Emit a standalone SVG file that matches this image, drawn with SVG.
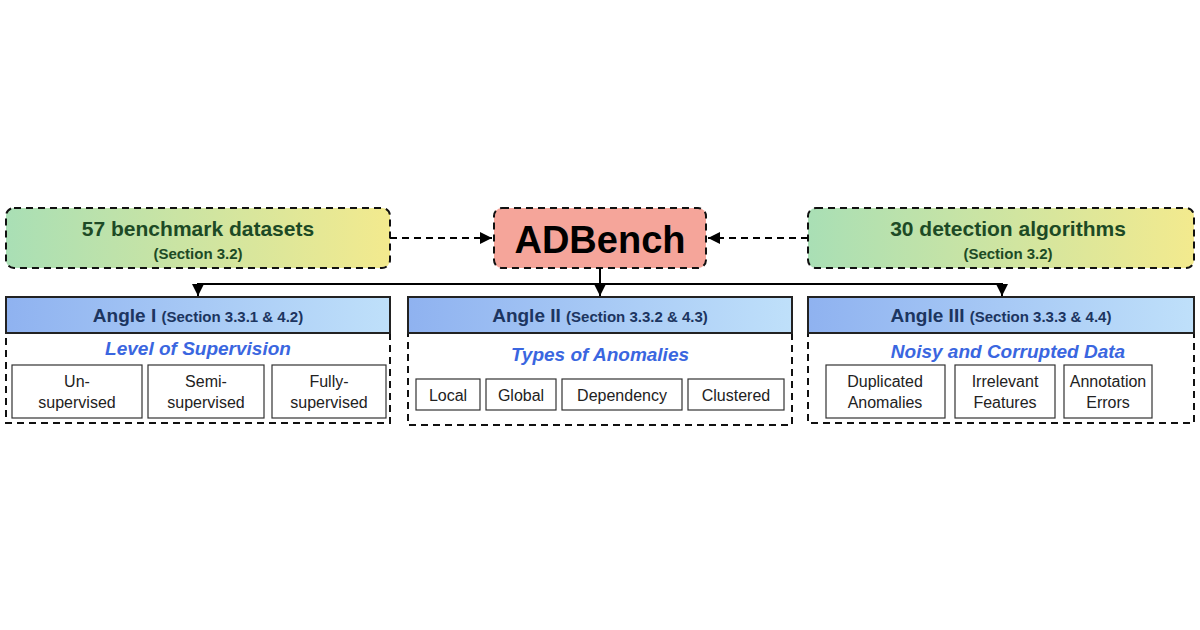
<svg xmlns="http://www.w3.org/2000/svg" width="1200" height="630" viewBox="0 0 1200 630">
<defs>
<linearGradient id="gy" x1="0" x2="1" y1="0" y2="0"><stop offset="0" stop-color="#a9dfb5"/><stop offset="1" stop-color="#f3ea8e"/></linearGradient>
<linearGradient id="bl" x1="0" x2="1" y1="0" y2="0"><stop offset="0" stop-color="#8fb2f0"/><stop offset="1" stop-color="#bfe0fa"/></linearGradient>
<marker id="ah" viewBox="0 0 10 10" refX="10" refY="5" markerWidth="6" markerHeight="6" orient="auto"><path d="M0,0 L10,5 L0,10 z" fill="#000"/></marker>
<style>
text{font-family:"Liberation Sans",Arial,sans-serif;text-anchor:middle}
.dash{fill:none;stroke:#111;stroke-width:2;stroke-dasharray:7,5}
.gbox{fill:url(#gy);stroke:#111;stroke-width:2;stroke-dasharray:7,5}
.hdr{fill:url(#bl);stroke:#222;stroke-width:2}
.sb{fill:#fff;stroke:#333;stroke-width:1.2}
.gt{font-weight:bold;fill:#1d4a25}
.ht{font-weight:bold;fill:#1c3560}
.it{font-weight:bold;font-style:italic;fill:#3a66e0;font-size:19px}
.st{font-size:16px;fill:#222}
.cn{fill:none;stroke:#000;stroke-width:2}
</style>
</defs>
<rect width="1200" height="630" fill="#fff"/>
<g id="datasets"><rect class="gbox" x="6" y="208" width="384" height="60" rx="8"/>
<text class="gt" x="198" y="236" font-size="21">57 benchmark datasets</text>
<text class="gt" x="198" y="259" font-size="15">(Section 3.2)</text></g>
<g id="adbench"><rect x="494" y="208" width="212" height="60" rx="8" fill="#f5a59a" stroke="#111" stroke-width="2" stroke-dasharray="7,5"/>
<text x="600" y="253" font-size="38" font-weight="bold" fill="#000">ADBench</text></g>
<g id="algorithms"><rect class="gbox" x="808" y="208" width="386" height="60" rx="8"/>
<text class="gt" x="1008" y="236" font-size="21">30 detection algorithms</text>
<text class="gt" x="1008" y="259" font-size="15">(Section 3.2)</text></g>

<g id="angle1"><rect class="dash" x="6" y="333" width="384" height="90"/>
<rect class="hdr" x="6" y="297" width="384" height="36"/>
<text class="ht" x="198" y="322"><tspan font-size="19">Angle I </tspan><tspan font-size="15">(Section 3.3.1 &amp; 4.2)</tspan></text>
<text class="it" x="198" y="355">Level of Supervision</text>
<rect class="sb" x="12" y="365" width="130" height="53"/><text class="st" x="77" y="387">Un-</text><text class="st" x="77" y="408">supervised</text>
<rect class="sb" x="148" y="365" width="116" height="53"/><text class="st" x="206" y="387">Semi-</text><text class="st" x="206" y="408">supervised</text>
<rect class="sb" x="272" y="365" width="114" height="53"/><text class="st" x="329" y="387">Fully-</text><text class="st" x="329" y="408">supervised</text></g>

<g id="angle2"><rect class="dash" x="408" y="333" width="384" height="92"/>
<rect class="hdr" x="408" y="297" width="384" height="36"/>
<text class="ht" x="600" y="322"><tspan font-size="19">Angle II </tspan><tspan font-size="15">(Section 3.3.2 &amp; 4.3)</tspan></text>
<text class="it" x="600" y="361">Types of Anomalies</text>
<rect class="sb" x="416" y="379" width="64" height="31"/><text class="st" x="448" y="401">Local</text>
<rect class="sb" x="486" y="379" width="70" height="31"/><text class="st" x="521" y="401">Global</text>
<rect class="sb" x="562" y="379" width="120" height="31"/><text class="st" x="622" y="401">Dependency</text>
<rect class="sb" x="688" y="379" width="96" height="31"/><text class="st" x="736" y="401">Clustered</text></g>

<g id="angle3"><rect class="dash" x="808" y="333" width="386" height="90"/>
<rect class="hdr" x="808" y="297" width="386" height="36"/>
<text class="ht" x="1001" y="322"><tspan font-size="19">Angle III </tspan><tspan font-size="15">(Section 3.3.3 &amp; 4.4)</tspan></text>
<text class="it" x="1008" y="358">Noisy and Corrupted Data</text>
<rect class="sb" x="826" y="365" width="119" height="53"/><text class="st" x="885" y="387">Duplicated</text><text class="st" x="885" y="408">Anomalies</text>
<rect class="sb" x="955" y="365" width="100" height="53"/><text class="st" x="1005" y="387">Irrelevant</text><text class="st" x="1005" y="408">Features</text>
<rect class="sb" x="1064" y="365" width="88" height="53"/><text class="st" x="1108" y="387" font-size="15">Annotation</text><text class="st" x="1108" y="408">Errors</text></g>

<g id="connectors">
<line x1="390" y1="238" x2="492" y2="238" stroke="#000" stroke-width="2" stroke-dasharray="7,5" marker-end="url(#ah)"/>
<line x1="808" y1="238" x2="708" y2="238" stroke="#000" stroke-width="2" stroke-dasharray="7,5" marker-end="url(#ah)"/>
<line class="cn" x1="600" y1="268" x2="600" y2="284"/>
<line class="cn" x1="197" y1="284" x2="1003" y2="284"/>
<line class="cn" x1="198" y1="284" x2="198" y2="296" marker-end="url(#ah)"/>
<line class="cn" x1="600" y1="284" x2="600" y2="296" marker-end="url(#ah)"/>
<line class="cn" x1="1002" y1="284" x2="1002" y2="296" marker-end="url(#ah)"/>
</g>
</svg>
